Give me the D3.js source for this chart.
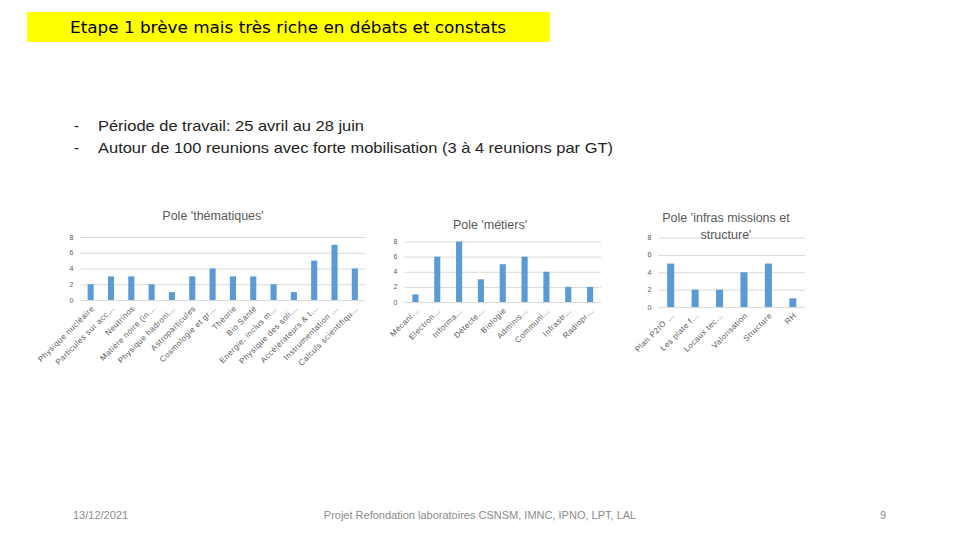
<!DOCTYPE html>
<html><head><meta charset="utf-8">
<script src="https://cdn.jsdelivr.net/npm/d3@7"></script>
<style>body{margin:0;background:#fff}svg{display:block}</style>
</head><body>
<svg id="c" width="960" height="540"></svg>
<script>
const thematiquesCategories = ["Physique nucléaire","Particules sur acc…","Neutrinos","Matière noire (in…","Physique hadroni…","Astroparticules","Cosmologie et gr…","Théorie","Bio Santé","Energie, inclus m…","Physique des soli…","Accélérateurs & t…","Instrumentation …","Calculs scientifiqu…"];
const thematiquesValues = [2,3,3,2,1,3,4,3,3,2,1,5,7,4];
const metiersCategories = ["Mécani…","Electron…","Informa…","Détecte…","Biologie","Adminis…","Communi…","Infrastr…","Radiopr…"];
const metiersValues = [1,6,8,3,5,6,4,2,2];
const infrasCategories = ["Plan P2IO …","Les plate f…","Locaux tec…","Valorisation","Structure","RH"];
const infrasValues = [5,2,2,4,5,1];
const yTicks = [0,2,4,6,8];

const svg = d3.select("#c");
const blue = "#5B9BD5", grid = "#D9D9D9", lab = "#595959";

// header
svg.append("rect").attr("x",27).attr("y",12).attr("width",523).attr("height",30).attr("fill","#FFFF00");
svg.append("text").attr("x",288).attr("y",33).attr("text-anchor","middle")
  .attr("font-family","DejaVu Sans").attr("font-size",16).attr("fill","#000")
  .attr("textLength",436).attr("lengthAdjust","spacingAndGlyphs")
  .text("Etape 1 brève mais très riche en débats et constats");

// bullets
const bullets = [["Période de travail: 25 avril au 28 juin",131,266],["Autour de 100 reunions avec forte mobilisation (3 à 4 reunions par GT)",153,515]];
bullets.forEach(([t,y,w])=>{
  svg.append("text").attr("x",74).attr("y",y).attr("font-family","Liberation Sans").attr("font-size",15).attr("fill","#222").text("-");
  svg.append("text").attr("x",98).attr("y",y).attr("font-family","Liberation Sans").attr("font-size",15).attr("fill","#222")
    .attr("textLength",w).attr("lengthAdjust","spacingAndGlyphs").text(t);
});

function drawChart(cats, vals, o){
  const g = svg.append("g");
  const x = d3.scaleBand().domain(cats).range([o.x0,o.x1]).paddingInner(o.pad).paddingOuter(o.pad/2);
  const y = d3.scaleLinear().domain([0,8]).range([o.y0,o.y8]);
  g.selectAll("line.g").data(yTicks).join("line")
    .attr("x1",o.x0).attr("x2",o.x1).attr("y1",d=>y(d)+0.5).attr("y2",d=>y(d)+0.5)
    .attr("stroke",grid).attr("stroke-width",1);
  g.selectAll("text.yt").data(yTicks).join("text")
    .attr("x",o.x0-7).attr("y",d=>y(d)+2.5).attr("text-anchor","end")
    .attr("font-family","Liberation Sans").attr("font-size",7).attr("fill",lab).text(d=>d);
  g.selectAll("rect.b").data(vals).join("rect")
    .attr("x",(d,i)=>x(cats[i])).attr("width",x.bandwidth())
    .attr("y",d=>y(d)).attr("height",d=>y(0)-y(d)).attr("fill",blue);
  g.selectAll("text.xl").data(cats).join("text")
    .attr("text-anchor","end").attr("font-family","Liberation Sans").attr("font-size",8).attr("letter-spacing",0.45).attr("fill",lab)
    .attr("transform",d=>`translate(${x(d)+x.bandwidth()/2+4},${o.y0+9}) rotate(-45)`)
    .text(d=>d);
  o.title.forEach((t,i)=>{
    g.append("text").attr("x",o.tx).attr("y",o.ty+i*17).attr("text-anchor","middle")
      .attr("font-family","Liberation Sans").attr("font-size",12.5).attr("fill",lab).text(t);
  });
}

drawChart(thematiquesCategories, thematiquesValues, {x0:80.5,x1:365,y0:300,y8:237,pad:0.7,tx:213,ty:220,title:["Pole 'thématiques'"]});
drawChart(metiersCategories, metiersValues, {x0:404.5,x1:601,y0:302,y8:241.5,pad:0.72,tx:490,ty:229,title:["Pole 'métiers'"]});
drawChart(infrasCategories, infrasValues, {x0:658.5,x1:805,y0:307,y8:237.5,pad:0.71,tx:726,ty:222,title:["Pole 'infras missions et","structure'"]});

// footer
const foot = [["13/12/2021",73,"start"],["Projet Refondation laboratoires CSNSM, IMNC, IPNO, LPT, LAL",480,"middle"],["9",883,"middle"]];
foot.forEach(([t,xp,a])=>svg.append("text").attr("x",xp).attr("y",519).attr("text-anchor",a)
  .attr("font-family","Liberation Sans Narrow, Liberation Sans").attr("font-size",11).attr("fill","#8c8c8c").text(t));
</script>
</body></html>
